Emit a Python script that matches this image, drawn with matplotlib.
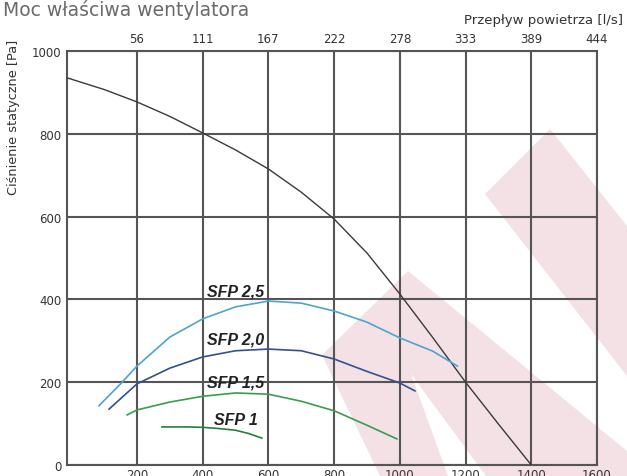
import matplotlib
matplotlib.use("Agg")
import matplotlib.pyplot as plt
from matplotlib.patches import Polygon

W, H = 627, 477

# ---------------- data ----------------
x_ticks = [200, 400, 600, 800, 1000, 1200, 1400, 1600]
top_labels = ["56", "111", "167", "222", "278", "333", "389", "444"]
y_ticks = [0, 200, 400, 600, 800, 1000]

sys_x = [-12, 100, 200, 300, 400, 500, 600, 700, 800, 900, 1000, 1100, 1200, 1300, 1400]
sys_y = [935, 907, 877, 842, 802, 761, 715, 659, 594, 512, 413, 308, 200, 99, 0]

sfp25_x = [84, 150, 200, 300, 400, 500, 600, 700, 800, 900, 1000, 1100, 1175]
sfp25_y = [143, 196, 239, 309, 353, 382, 396, 391, 372, 345, 307, 275, 239]

sfp20_x = [115, 200, 300, 400, 500, 600, 700, 800, 900, 1000, 1046]
sfp20_y = [135, 196, 234, 261, 276, 280, 276, 256, 226, 198, 179]

sfp15_x = [170, 200, 300, 400, 500, 600, 700, 800, 900, 991]
sfp15_y = [121, 133, 152, 166, 174, 171, 154, 131, 96, 63]

sfp10_x = [276, 350, 400, 450, 500, 540, 580]
sfp10_y = [92, 92, 91, 88, 84, 76, 65]

labels = ["SFP 2,5", "SFP 2,0", "SFP 1,5", "SFP 1"]
label_x = [500, 500, 500, 500]
label_y = [420, 304, 200, 111]

# ---------------- figure ----------------
fig = plt.figure(figsize=(W / 100, H / 100), dpi=100)
fig.patch.set_facecolor("white")

def fx(px):
    return px / W

def fy(py):
    return 1 - py / H

# watermark (decorative background)
pink = "#f3e1e5"
wm_shapes = [
    [(322, 356), (408, 272), (627, 452), (627, 477), (380, 477)],
    [(485, 195), (550, 130), (627, 227), (627, 377)],
]
for shp in wm_shapes:
    fig.patches.append(Polygon([(fx(a), fy(b)) for a, b in shp], closed=True,
                               transform=fig.transFigure, facecolor=pink,
                               edgecolor="none", zorder=-2))
notch = [(411, 375), (486, 477), (448, 477)]
fig.patches.append(Polygon([(fx(a), fy(b)) for a, b in notch], closed=True,
                           transform=fig.transFigure, facecolor="white",
                           edgecolor="none", zorder=-1))

left, right, top, bottom = 67, 597, 52, 466
ax = fig.add_axes([fx(left), fy(bottom), (right - left) / W, (bottom - top) / H])
ax.patch.set_alpha(0)
ax.set_xlim(-13, 1600)
ax.set_ylim(0, 1000)

gcol = "#555555"
ax.set_xticks(x_ticks)
ax.set_yticks(y_ticks)
ax.grid(True, color=gcol, linewidth=1.5, zorder=1)
for s in ax.spines.values():
    s.set_color(gcol)
    s.set_linewidth(1.5)

ax.tick_params(axis="both", length=0, labelsize=8.5, labelcolor="#333333")
ax.tick_params(axis="y", pad=4)
ax.tick_params(axis="x", pad=2)

ax2 = ax.secondary_xaxis("top")
ax2.set_xticks(x_ticks)
ax2.set_xticklabels(top_labels)
ax2.tick_params(length=0, labelsize=8.5, labelcolor="#333333", pad=4)
ax2.spines["top"].set_visible(False)

# curves
ax.plot(sys_x, sys_y, color="#3a3a3a", lw=1.0, zorder=3)
ax.plot(sfp25_x, sfp25_y, color="#4fa3cf", lw=1.2, zorder=3)
ax.plot(sfp20_x, sfp20_y, color="#34508f", lw=1.2, zorder=3)
ax.plot(sfp15_x, sfp15_y, color="#3a9c50", lw=1.2, zorder=3)
ax.plot(sfp10_x, sfp10_y, color="#2a7d3a", lw=1.2, zorder=3)

for t, lx, ly in zip(labels, label_x, label_y):
    ax.text(lx, ly, t, ha="center", va="center", fontsize=11.5,
            fontweight="bold", fontstyle="italic", family="Liberation Sans",
            color="#222222", zorder=4)

# titles
fig.text(fx(3), fy(16), "Moc właściwa wentylatora", fontsize=13.5,
         color="#6a6a6a", ha="left", va="baseline")
fig.text(fx(623), fy(24), "Przepływ powietrza [l/s]", fontsize=9.5,
         color="#333333", ha="right", va="baseline")
fig.text(fx(14), fy(117), "Ciśnienie statyczne [Pa]", fontsize=9.3,
         color="#333333", ha="center", va="center", rotation=90)

fig.savefig("out.png", dpi=100, facecolor="white")
